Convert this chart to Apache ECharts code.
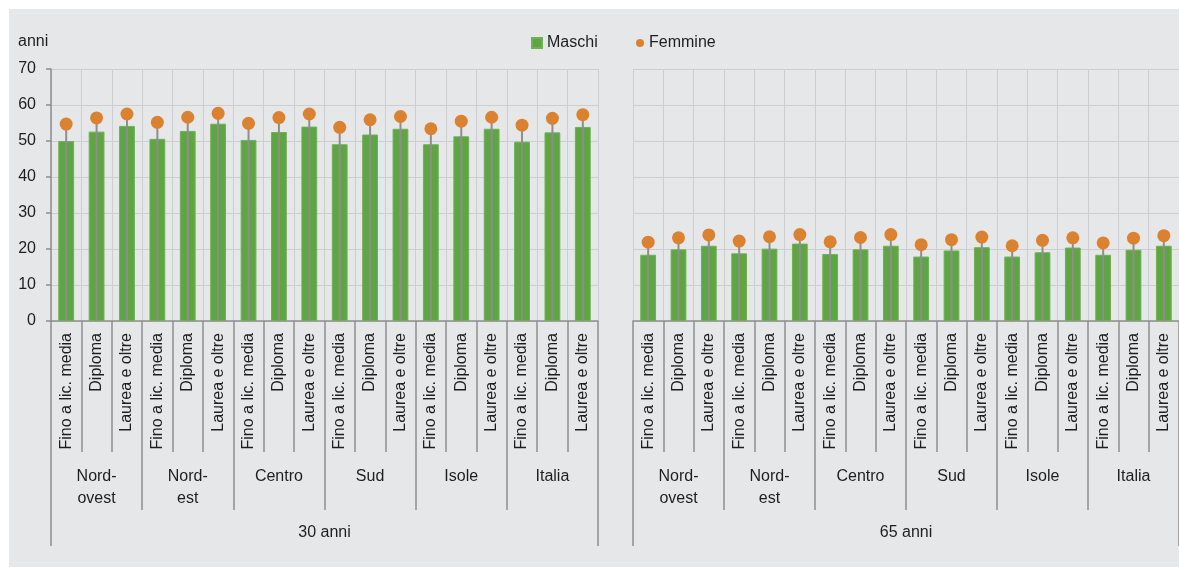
<!DOCTYPE html>
<html>
<head>
<meta charset="utf-8">
<script src="https://cdn.jsdelivr.net/npm/echarts@6/dist/echarts.min.js"></script>
<style>
  html, body { margin: 0; padding: 0; background: #ffffff; }
  #chart { width: 1179px; height: 572px; }
</style>
</head>
<body>
<div id="chart"></div>
<script>
// Titolo di studio, ripartizione e età di riferimento
const livelli = ['Fino a lic. media', 'Diploma', 'Laurea e oltre'];
const ripartizioni = ['Nord-\novest', 'Nord-\nest', 'Centro', 'Sud', 'Isole', 'Italia'];
const eta = ['30 anni', '65 anni'];

// Speranza di vita residua (anni), maschi e femmine
const maschi30 = [50.0, 52.6, 54.2, 50.6, 52.8, 54.8, 50.3, 52.5, 54.0, 49.1, 51.8, 53.4, 49.1, 51.3, 53.4, 49.8, 52.4, 53.9];
const femmine30 = [54.7, 56.4, 57.5, 55.2, 56.6, 57.7, 54.9, 56.5, 57.5, 53.8, 55.9, 56.8, 53.4, 55.5, 56.6, 54.4, 56.3, 57.3];
const maschi65 = [18.4, 19.9, 20.9, 18.8, 20.1, 21.5, 18.6, 19.9, 20.9, 17.9, 19.6, 20.5, 17.9, 19.1, 20.4, 18.4, 19.8, 20.9];
const femmine65 = [21.9, 23.1, 23.9, 22.2, 23.4, 24.0, 22.0, 23.2, 24.0, 21.2, 22.6, 23.3, 20.9, 22.4, 23.1, 21.7, 23.0, 23.7];

// Asse verticale
const yMin = 0, yMax = 70, yStep = 10;

const categorie = [];
ripartizioni.forEach(() => livelli.forEach(l => categorie.push(l)));

const FONT = "'Liberation Sans', Arial, sans-serif";
const TXT = '#1e1e1e';
const AXIS = '#8f8f8f';
const GRID = '#cdcecf';
const VERDE = '#5fa544';
const ARANCIO = '#db8230';
const STELO = '#8e8e8e';
const FS = 16;

const chart = echarts.init(document.getElementById('chart'), null, { renderer: 'canvas' });

const grids = [
  { left: 51, top: 69, width: 547, height: 252 },
  { left: 633, top: 69, width: 547, height: 252 }
];

const xAxes = [];
const yAxes = [];
grids.forEach((g, gi) => {
  // livello 1: titolo di studio
  xAxes.push({
    type: 'category', gridIndex: gi, position: 'bottom', data: categorie,
    axisLine: { show: true, lineStyle: { color: AXIS, width: 1.5 } },
    axisTick: { show: true, interval: 0, length: 131, lineStyle: { color: AXIS, width: 1.5 } },
    axisLabel: { interval: 0, rotate: 90, margin: 12, fontSize: 16, color: TXT, fontFamily: FONT },
    splitLine: { show: true, interval: 0, lineStyle: { color: GRID, width: 1 } }
  });
  // livello 2: ripartizione
  xAxes.push({
    type: 'category', gridIndex: gi, position: 'bottom', data: ripartizioni,
    axisLine: { show: false },
    axisTick: { show: true, interval: 0, length: 189, lineStyle: { color: AXIS, width: 1.5 } },
    axisLabel: { interval: 0, margin: 145, fontSize: FS, lineHeight: 22, color: TXT, fontFamily: FONT },
    splitLine: { show: false }
  });
  // livello 3: età
  xAxes.push({
    type: 'category', gridIndex: gi, position: 'bottom', data: [eta[gi]],
    axisLine: { show: false },
    axisTick: { show: true, interval: 0, length: 225, lineStyle: { color: AXIS, width: 1.5 } },
    axisLabel: { interval: 0, margin: 204, fontSize: FS, color: TXT, fontFamily: FONT },
    splitLine: { show: false }
  });
  yAxes.push({
    type: 'value', gridIndex: gi, min: yMin, max: yMax, interval: yStep,
    axisLine: { show: gi === 0, lineStyle: { color: AXIS, width: 1.5 } },
    axisTick: { show: gi === 0, length: 5, lineStyle: { color: AXIS, width: 1.5 } },
    axisLabel: { show: gi === 0, margin: 15, fontSize: 16, color: TXT, fontFamily: FONT },
    splitLine: { show: true, lineStyle: { color: GRID, width: 1 } }
  });
});

// stelo grigio dallo zero fino al punto delle femmine
function stelo(params, api) {
  const x = api.value(0);
  const v = api.value(1);
  const a = api.coord([x, 0]);
  const b = api.coord([x, v]);
  return {
    type: 'line',
    shape: { x1: a[0], y1: a[1], x2: b[0], y2: b[1] },
    style: { stroke: STELO, lineWidth: 2 }
  };
}

const datiMaschi = [maschi30, maschi65];
const datiFemmine = [femmine30, femmine65];
const series = [];
[0, 1].forEach(gi => {
  series.push({
    name: 'Maschi', type: 'bar', xAxisIndex: gi * 3, yAxisIndex: gi,
    data: datiMaschi[gi], barWidth: '52%', z: 2,
    itemStyle: { color: VERDE, borderColor: '#6db352', borderWidth: 1 },
    emphasis: { disabled: true }
  });
  series.push({
    name: 'stelo', type: 'custom', xAxisIndex: gi * 3, yAxisIndex: gi,
    data: datiFemmine[gi].map((v, i) => [i, v]), renderItem: stelo, z: 3,
    encode: { x: 0, y: 1 }, silent: true
  });
  series.push({
    name: 'Femmine', type: 'scatter', xAxisIndex: gi * 3, yAxisIndex: gi,
    data: datiFemmine[gi], symbol: 'circle', symbolSize: 13, z: 4,
    itemStyle: { color: ARANCIO, opacity: 1 },
    emphasis: { disabled: true }
  });
});

chart.setOption({
  animation: false,
  backgroundColor: '#ffffff',
  graphic: [
    { type: 'rect', z: -10, shape: { x: 9, y: 9, width: 1170, height: 558 }, style: { fill: '#e6e7e9' } },
    { type: 'text', left: 18, top: 34, style: { text: 'anni', font: FS + "px " + FONT, fill: TXT } }
  ],
  legend: [
    {
      data: [{ name: 'Maschi', icon: 'rect' }], left: 531, top: 35, padding: 0,
      itemWidth: 10, itemHeight: 10, selectedMode: false,
      textStyle: { fontSize: FS, color: TXT, fontFamily: FONT }
    },
    {
      data: [{ name: 'Femmine', icon: 'circle' }], left: 636, top: 35, padding: 0,
      itemWidth: 8, itemHeight: 8, selectedMode: false,
      textStyle: { fontSize: FS, color: TXT, fontFamily: FONT }
    }
  ],
  grid: grids,
  xAxis: xAxes,
  yAxis: yAxes,
  series: series
});
</script>
</body>
</html>
